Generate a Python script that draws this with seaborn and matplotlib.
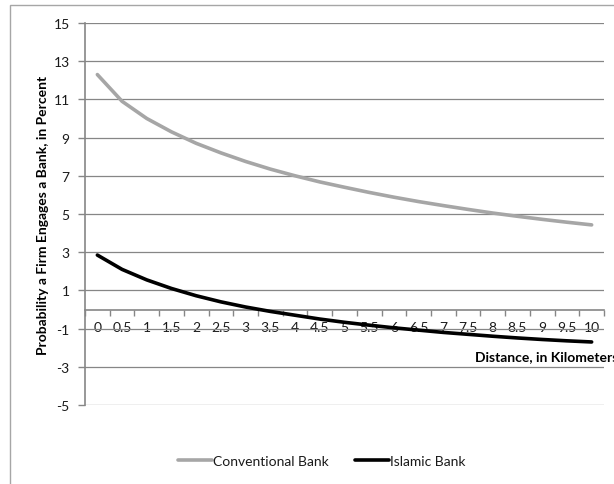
import matplotlib
matplotlib.use("Agg")
import matplotlib.pyplot as plt
import matplotlib.patches as mpatches
import matplotlib.ticker as mticker
import pandas as pd
import seaborn as sns

# distance categories (km) as printed on the axis
DISTANCE = ["0", "0.5", "1", "1.5", "2", "2.5", "3", "3.5", "4", "4.5", "5",
            "5.5", "6", "6.5", "7", "7.5", "8", "8.5", "9", "9.5", "10"]

# probability a firm engages a bank, in percent
CONVENTIONAL = [12.3, 10.9, 10.0, 9.3, 8.7, 8.2, 7.75, 7.35, 7.0, 6.68, 6.4,
                6.13, 5.88, 5.65, 5.44, 5.24, 5.05, 4.88, 4.72, 4.57, 4.43]
ISLAMIC = [2.85, 2.1, 1.55, 1.1, 0.72, 0.4, 0.13, -0.1, -0.3, -0.5, -0.67,
           -0.82, -0.96, -1.08, -1.2, -1.3, -1.4, -1.49, -1.57, -1.64, -1.7]

SERIES = ["Conventional Bank", "Islamic Bank"]
COLORS = {"Conventional Bank": "#A6A6A6", "Islamic Bank": "#000000"}
Y_TICKS = [-5, -3, -1, 1, 3, 5, 7, 9, 11, 13, 15]

GRID = "#868686"
TEXT = "#1A1A1A"

sns.set_theme(style="white")
plt.rcParams["font.family"] = ["Lato", "DejaVu Sans"]
plt.rcParams["axes.unicode_minus"] = False

rows = []
for i, d in enumerate(DISTANCE):
    rows.append({"pos": i, "series": SERIES[0], "value": CONVENTIONAL[i]})
    rows.append({"pos": i, "series": SERIES[1], "value": ISLAMIC[i]})
df = pd.DataFrame(rows)

W, H = 614, 485
fig = plt.figure(figsize=(W / 100, H / 100), dpi=100)
ax = fig.add_axes([85 / W, 1 - 406 / H, (604 - 85) / W, (406 - 24) / H])

# outer chart border (cropped at right and bottom like the original)
fig.patches.append(mpatches.Rectangle((10 / W, -0.1), 1.2, 1 - 6 / H + 0.1,
                                      transform=fig.transFigure, fill=False,
                                      edgecolor="#A6A6A6", lw=1.0, zorder=0))

sns.lineplot(data=df, x="pos", y="value", hue="series", palette=COLORS,
             hue_order=SERIES, linewidth=2.6, ax=ax, legend=False, zorder=3)

ax.set_xlim(-0.5, len(DISTANCE) - 0.5)
ax.set_ylim(-5, 15)
ax.set_yticks(Y_TICKS)
ax.yaxis.grid(True, color=GRID, lw=0.9)
ax.xaxis.grid(False)
ax.set_axisbelow(True)

for s in ("top", "right"):
    ax.spines[s].set_visible(False)
ax.spines["left"].set_color(GRID)
ax.spines["left"].set_linewidth(1.2)
ax.spines["bottom"].set_position(("data", 0))
ax.spines["bottom"].set_color(GRID)
ax.spines["bottom"].set_linewidth(1.2)

ax.xaxis.set_major_locator(mticker.FixedLocator(range(len(DISTANCE))))
ax.xaxis.set_major_formatter(mticker.FixedFormatter(DISTANCE))
ax.xaxis.set_minor_locator(mticker.FixedLocator([k + 0.5 for k in range(-1, len(DISTANCE))]))
ax.tick_params(axis="x", which="major", length=0, pad=8, labelsize=10, labelcolor=TEXT)
ax.tick_params(axis="x", which="minor", length=4, width=1, color=GRID, direction="out", bottom=True)
ax.tick_params(axis="y", which="major", length=5, width=1, color=GRID, direction="out",
               left=True, pad=6, labelsize=10, labelcolor=TEXT)

ax.set_xlabel("")
ax.set_ylabel("Probability a Firm Engages a Bank, in Percent", fontsize=10,
              fontweight="bold", color="#000000", labelpad=3)
fig.text(618 / W, 1 - 357 / H, "Distance, in Kilometers", ha="right", va="center",
         fontsize=10, fontweight="bold", color="#000000")

handles = [plt.Line2D([], [], color=COLORS[s], lw=2.6) for s in SERIES]
fig.legend(handles, SERIES, loc="center", bbox_to_anchor=(322 / W, 1 - 462 / H),
           ncol=2, frameon=False, fontsize=10, handlelength=2.4, handletextpad=0.1,
           columnspacing=1.9, labelcolor=TEXT)

fig.savefig("out.png", dpi=100)
